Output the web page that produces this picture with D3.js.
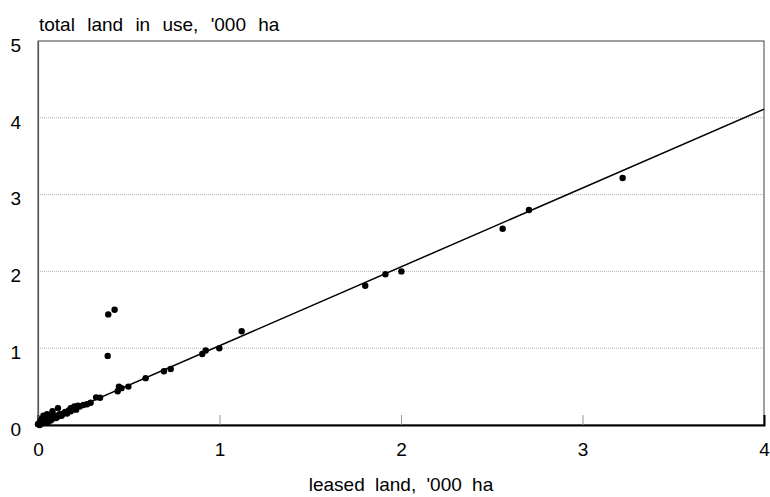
<!DOCTYPE html>
<html><head><meta charset="utf-8">
<script src="https://cdn.jsdelivr.net/npm/d3@7"></script>
<style>body{margin:0;background:#fff}svg{display:block}text{font-family:"Liberation Sans",Arial,sans-serif;fill:#000}</style>
</head><body><svg id="c" width="770" height="497"></svg>
<script>
const xTicks = [0, 1, 2, 3, 4];
const yTicks = [0, 1, 2, 3, 4, 5];
const leased = [0.000,0.005,0.010,0.010,0.015,0.020,0.020,0.025,0.030,0.030,0.035,0.040,0.040,0.050,0.050,0.055,0.060,0.060,0.070,0.070,0.080,0.080,0.090,0.100,0.100,0.110,0.110,0.120,0.130,0.140,0.150,0.160,0.170,0.180,0.180,0.190,0.200,0.200,0.210,0.220,0.230,0.250,0.270,0.290,0.320,0.342,0.384,0.387,0.422,0.439,0.446,0.460,0.498,0.593,0.694,0.731,0.905,0.924,0.999,1.122,1.803,1.914,2.002,2.560,2.705,3.221];
const total  = [0.010,0.020,0.000,0.030,0.050,0.020,0.080,0.040,0.120,0.060,0.030,0.100,0.050,0.140,0.070,0.040,0.090,0.110,0.060,0.130,0.080,0.180,0.100,0.090,0.120,0.220,0.110,0.140,0.120,0.150,0.170,0.150,0.190,0.180,0.220,0.200,0.240,0.210,0.200,0.250,0.240,0.260,0.270,0.290,0.360,0.355,0.900,1.440,1.500,0.440,0.500,0.480,0.500,0.610,0.700,0.730,0.925,0.970,1.000,1.220,1.814,1.962,2.000,2.556,2.800,3.216];
const trendSlope = 1.027;
const trendIntercept = 0.005;

const svg = d3.select("#c");
const L = 38, R = 764, T = 41, B = 425;
const x = d3.scaleLinear().domain([0, 4]).range([L, R]);
const y = d3.scaleLinear().domain([0, 5]).range([B, T]);

// gridlines
svg.append("g").selectAll("line").data(yTicks.filter(d => d > 0 && d < 5)).join("line")
  .attr("x1", L).attr("x2", R).attr("y1", d => y(d)).attr("y2", d => y(d))
  .attr("stroke", "#b4b4b4").attr("stroke-width", 1).attr("stroke-dasharray", "1,1");

// plot border
svg.append("rect").attr("x", L).attr("y", T).attr("width", R - L).attr("height", B - T)
  .attr("fill", "none").attr("stroke", "#404040").attr("stroke-width", 1);

// x axis
const xAxis = d3.axisBottom(x).tickValues(xTicks).tickSize(-10).tickPadding(14).tickFormat(d3.format("d"));
const gx = svg.append("g").attr("transform", `translate(0,${B})`).call(xAxis);
gx.select(".domain").attr("stroke", "#000").attr("stroke-width", 2);
gx.selectAll(".tick line").attr("stroke", "#999").filter(d => d === 0 || d === 4).remove();
gx.selectAll(".tick text").style("font-size", "19px").attr("dy", "0.71em").attr("y", 18);

// y axis
const yAxis = d3.axisLeft(y).tickValues(yTicks).tickSize(0).tickPadding(17).tickFormat(d3.format("d"));
const gy = svg.append("g").attr("transform", `translate(${L},0)`).call(yAxis);
gy.select(".domain").attr("stroke", "#555").attr("stroke-width", 1.2);
gy.selectAll(".tick text").style("font-size", "19px").attr("dy", "0.38em").attr("y", 3);

// trend line
svg.append("line")
  .attr("x1", x(0)).attr("y1", y(trendIntercept))
  .attr("x2", x(4)).attr("y2", y(trendIntercept + trendSlope * 4))
  .attr("stroke", "#000").attr("stroke-width", 1.5);

// points
svg.append("g").selectAll("circle").data(leased.map((v, i) => [v, total[i]])).join("circle")
  .attr("cx", d => x(d[0])).attr("cy", d => y(d[1])).attr("r", 3.2).attr("fill", "#000");

// titles
svg.append("text").attr("x", 39).attr("y", 31).style("font-size", "19px").style("word-spacing", "7px")
  .text("total land in use, '000 ha");
svg.append("text").attr("x", (L + R) / 2).attr("y", 491).attr("text-anchor", "middle")
  .style("font-size", "19px").style("word-spacing", "5px").text("leased land, '000 ha");
</script></body></html>
